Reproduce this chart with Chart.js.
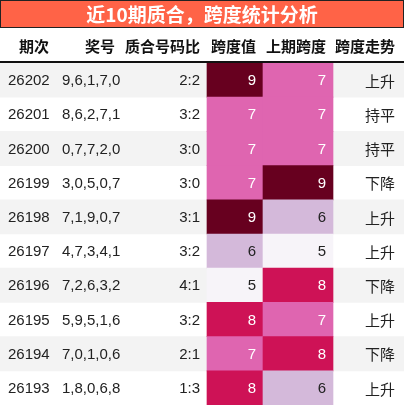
<!DOCTYPE html>
<html><head><meta charset="utf-8">
<script src="https://cdn.jsdelivr.net/npm/chart.js@4/dist/chart.umd.min.js"></script>
<style>html,body{margin:0;padding:0;background:#fff}#c{display:block}</style>
</head><body>
<div style="width:404px;height:405px"><canvas id="c" width="404" height="405"></canvas></div>
<script>
const title = '近10期质合，跨度统计分析';
const headers = ['期次','奖号','质合号码比','跨度值','上期跨度','跨度走势'];
const periods = ['26202','26201','26200','26199','26198','26197','26196','26195','26194','26193'];
const numbers = ['9,6,1,7,0','8,6,2,7,1','0,7,7,2,0','3,0,5,0,7','7,1,9,0,7','4,7,3,4,1','7,2,6,3,2','5,9,5,1,6','7,0,1,0,6','1,8,0,6,8'];
const ratios = ['2:2','3:2','3:0','3:0','3:1','3:2','4:1','3:2','2:1','1:3'];
const spans = [9,7,7,7,9,6,5,8,7,8];
const prevSpans = [7,7,7,9,6,5,8,7,8,6];
const trends = ['上升','持平','持平','下降','上升','上升','下降','上升','下降','上升'];

// layout (pixels)
const colSpan = [207,263], colPrev = [263,333];
const colors = {5:'#f7f4f9',6:'#d4b9da',7:'#df65b0',8:'#ce1256',9:'#67001f'};
const txtCol = v => v >= 7 ? '#fff' : '#222';
const FONT = '"Liberation Sans", "Noto Sans CJK SC", sans-serif';

const tablePlugin = {
  id:'table',
  beforeDraw(chart){
    const ctx = chart.ctx;
    ctx.save();
    ctx.fillStyle = '#ff6347';
    ctx.fillRect(0,0,404,28);
    ctx.strokeStyle = '#222'; ctx.lineWidth = 1;
    ctx.strokeRect(0.5,0.5,403,27);
    ctx.fillStyle = '#fff';
    ctx.font = 'bold 19px "Noto Sans CJK SC", sans-serif';
    ctx.textAlign = 'center'; ctx.textBaseline = 'middle';
    ctx.fillText(title, 202, 15);
    ctx.fillStyle = '#111';
    ctx.font = 'bold 15px "Noto Sans CJK SC", sans-serif';
    const hx = [[34,'center'],[115,'right'],[200,'right'],[256,'right'],[326,'right'],[395,'right']];
    headers.forEach((h,i)=>{ ctx.textAlign = hx[i][1]; ctx.fillText(h, hx[i][0], 46); });
    ctx.restore();
  },
  afterDatasetsDraw(chart){
    const ctx = chart.ctx, ys = chart.scales.y;
    ctx.save();
    ctx.font = '15px ' + FONT; ctx.textBaseline = 'middle';
    periods.forEach((p,i)=>{
      const y = ys.getPixelForValue(i) + 1;
      ctx.fillStyle = '#222';
      ctx.textAlign = 'left'; ctx.fillText(p, 8, y); ctx.fillText(numbers[i], 62, y);
      ctx.textAlign = 'right'; ctx.fillText(ratios[i], 200, y);
      ctx.fillStyle = txtCol(spans[i]); ctx.fillText(String(spans[i]), 256, y);
      ctx.fillStyle = txtCol(prevSpans[i]); ctx.fillText(String(prevSpans[i]), 326, y);
      ctx.fillStyle = '#222';
      ctx.font = '15px "Noto Sans CJK SC", sans-serif'; ctx.fillText(trends[i], 395, y);
      ctx.font = '15px ' + FONT;
    });
    ctx.fillStyle = '#111'; ctx.fillRect(0, chart.chartArea.top - 2, 404, 2);
    ctx.restore();
  }
};

new Chart(document.getElementById('c'), {
  type:'bar',
  data:{
    labels: periods,
    datasets:[
      {data: periods.map((p,i)=> i%2===0 ? [0,404] : null), backgroundColor:'#f3f3f3', grouped:false, order:3},
      {data: spans.map(()=>colSpan), backgroundColor: spans.map(v=>colors[v]), grouped:false, order:2},
      {data: prevSpans.map(()=>colPrev), backgroundColor: prevSpans.map(v=>colors[v]), grouped:false, order:1}
    ]
  },
  options:{
    indexAxis:'y', responsive:false, animation:false,
    barPercentage:1, categoryPercentage:1,
    layout:{padding:{top:63,left:0,right:0,bottom:0}},
    plugins:{legend:{display:false}, tooltip:{enabled:false}},
    scales:{
      x:{type:'linear', min:0, max:404, display:false},
      y:{display:false, offset:true}
    }
  },
  plugins:[tablePlugin]
});
</script>
</body></html>
